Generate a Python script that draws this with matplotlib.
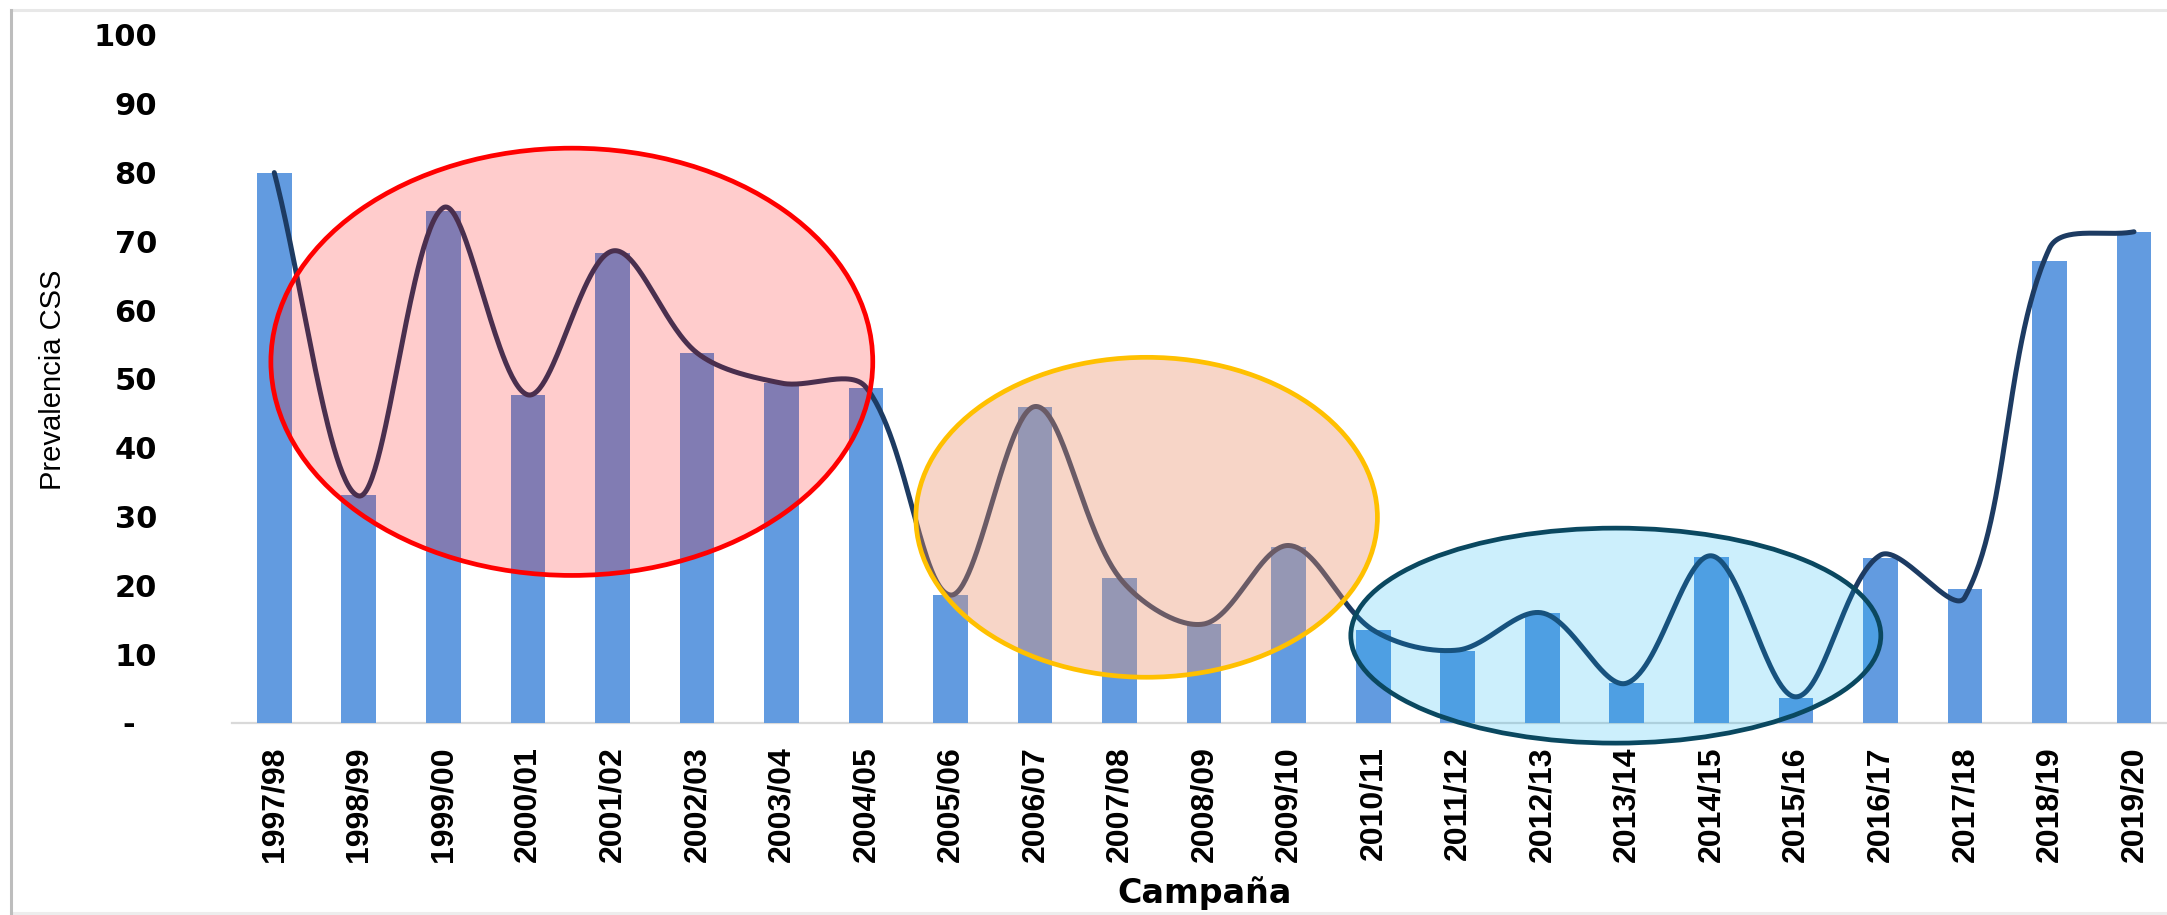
import numpy as np
import matplotlib
matplotlib.use("Agg")
import matplotlib.pyplot as plt
from matplotlib.patches import Ellipse
from matplotlib.lines import Line2D
from matplotlib import font_manager as fm

# ---------------- data ----------------
campaigns = ["1997/98", "1998/99", "1999/00", "2000/01", "2001/02", "2002/03",
             "2003/04", "2004/05", "2005/06", "2006/07", "2007/08", "2008/09",
             "2009/10", "2010/11", "2011/12", "2012/13", "2013/14", "2014/15",
             "2015/16", "2016/17", "2017/18", "2018/19", "2019/20"]
prevalence = [80.0, 33.1, 74.4, 47.7, 68.3, 53.8, 49.4, 48.7, 18.6, 45.9,
              21.1, 14.4, 25.6, 13.5, 10.4, 16.0, 5.8, 24.1, 3.6, 24.0,
              19.5, 67.2, 71.4]
# smoothed trend line
trend = [80.0, 33.0, 74.9, 47.7, 68.6, 53.8, 49.4, 48.8, 18.6, 46.0,
         21.1, 14.4, 25.8, 13.5, 10.6, 16.0, 5.8, 24.3, 3.8, 24.4,
         18.3, 69.0, 71.4]
yticks = [0, 10, 20, 30, 40, 50, 60, 70, 80, 90, 100]
yticklabels = ["-  ", "10", "20", "30", "40", "50", "60", "70", "80", "90", "100"]
# highlighted groups: (center campaign index, center value, width in campaigns, height in value)
groups = [
    (3.52, 52.5, 7.12, 62.1),
    (10.32, 29.9, 5.46, 46.5),
    (15.87, 12.7, 6.27, 31.25),
]
group_face = [(1.0, 0.0, 0.0, 0.20),
              (234/255, 145/255, 110/255, 0.38),
              (0.0, 176/255, 240/255, 0.20)]
group_edge = ["#FF0000", "#FFC000", "#0A4860"]

# ---------------- fonts ----------------
names = {f.name for f in fm.fontManager.ttflist}
has_narrow = "Liberation Sans Narrow" in names
xt_family = ["Liberation Sans Narrow", "DejaVu Sans"] if has_narrow else ["Liberation Sans", "DejaVu Sans"]
xt_size = 27 if has_narrow else 23
yl_size = 25 if has_narrow else 21

W, H = 2167, 915
fig = plt.figure(figsize=(W / 100, H / 100), dpi=100)
fig.patch.set_facecolor("white")

left_px, base_px, top_px = 232, 723, 35
ax = fig.add_axes([left_px / W, 1 - base_px / H, (W - left_px) / W, (base_px - top_px) / H])

n = len(campaigns)
x = np.arange(n)
ax.bar(x, prevalence, width=0.41, color="#629BE0", zorder=2)

# smoothed line (Bezier through points, chord-weighted in screen space, Excel-like)
sx, sy = 84.5, 6.88
P = np.column_stack([x.astype(float), np.array(trend, dtype=float)])
S = P * np.array([sx, sy])
tension = 1.0 / 3.0
cin = np.zeros_like(P)
cout = np.zeros_like(P)
for i in range(n):
    prev = P[i - 1] if i > 0 else P[i]
    nxt = P[i + 1] if i < n - 1 else P[i]
    sprev = S[i - 1] if i > 0 else S[i]
    snxt = S[i + 1] if i < n - 1 else S[i]
    d = nxt - prev
    a = np.linalg.norm(S[i] - sprev)
    b = np.linalg.norm(snxt - S[i])
    tot = a + b if a + b > 0 else 1.0
    cin[i] = P[i] - d * tension * a / tot
    cout[i] = P[i] + d * tension * b / tot
t = np.linspace(0, 1, 60)[:, None]
curve = []
for i in range(n - 1):
    p1, c1, c2, p2 = P[i], cout[i], cin[i + 1], P[i + 1]
    seg = ((1 - t) ** 3) * p1 + 3 * ((1 - t) ** 2) * t * c1 + 3 * (1 - t) * t ** 2 * c2 + t ** 3 * p2
    curve.append(seg if i == 0 else seg[1:])
curve = np.vstack(curve)
ax.plot(curve[:, 0], curve[:, 1], color="#1D3B62", lw=3.6, solid_capstyle="round", zorder=3)

for (cx, cy, w, h), fc, ec in zip(groups, group_face, group_edge):
    e = Ellipse((cx, cy), w, h, facecolor=fc, edgecolor=ec, lw=3.4, zorder=4, clip_on=False)
    ax.add_patch(e)

ax.set_xlim(-0.5, 22 + (W - 2134) / 84.5)
ax.set_ylim(0, 100)
for s in ["top", "right", "left"]:
    ax.spines[s].set_visible(False)
ax.spines["bottom"].set_color("#D9D9D9")
ax.spines["bottom"].set_linewidth(1.6)
ax.spines["bottom"].set_zorder(1)

ax.set_xticks(x)
ax.set_xticklabels(campaigns, rotation=90, fontsize=xt_size, fontweight="bold",
                   family=xt_family, va="top", ha="center")
ax.set_yticks(yticks)
ax.set_yticklabels(yticklabels, fontsize=22, fontweight="bold", family=["DejaVu Sans"])
ax.tick_params(axis="x", length=0, pad=17)
ax.tick_params(axis="y", length=0, pad=54)
ax.set_facecolor("none")

fig.text(53 / W, 1 - 380 / H, "Prevalencia CSS", rotation=90, ha="center", va="center",
         fontsize=yl_size, family=xt_family)
fig.text(1205 / W, 1 - 893 / H, "Campaña", ha="center", va="center",
         fontsize=24, fontweight="bold", family=["DejaVu Sans"])

# outer frame
fig.add_artist(Line2D([11 / W, 1], [1 - 10 / H, 1 - 10 / H], color="#E8E8E8", lw=2.2))
fig.add_artist(Line2D([11 / W, 1], [1 - 913 / H, 1 - 913 / H], color="#EDEDED", lw=2.2))
fig.add_artist(Line2D([11 / W, 11 / W], [1 - 10 / H, 1 - 913 / H], color="#BDBDBD", lw=2.2))

fig.savefig("out.png", dpi=100)
